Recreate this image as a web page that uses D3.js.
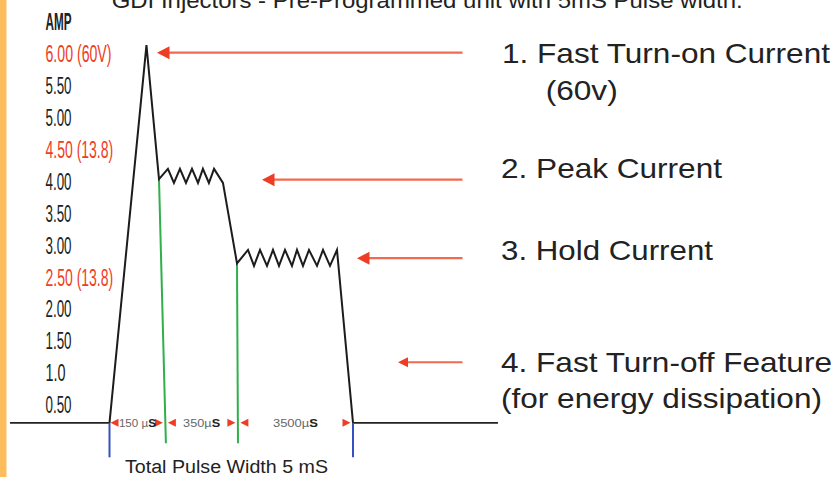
<!DOCTYPE html>
<html><head><meta charset="utf-8">
<script src="https://cdn.jsdelivr.net/npm/d3@7"></script>
<style>html,body{margin:0;padding:0;background:#fff;overflow:hidden}</style>
</head><body><svg id="c" width="836" height="477"></svg>
<script>
// ---------- data ----------
const titleText = "GDI Injectors - Pre-Programmed unit with 5mS Pulse width.";
const axisTitle = "AMP";
const tickValues = [6, 5.5, 5, 4.5, 4, 3.5, 3, 2.5, 2, 1.5, 1.0, 0.5];
const tickLabels = ["6.00 (60V)", "5.50", "5.00", "4.50 (13.8)", "4.00", "3.50", "3.00", "2.50 (13.8)", "2.00", "1.50", "1.0", "0.50"];
const tickHighlight = [true, false, false, true, false, false, false, true, false, false, false, false];

// waveform: time (µs) and current (A)
const waveTime = [0, 112, 150,
  190, 217, 244, 271, 298, 325, 347, 374, 397,
  437, 500,
  832, 1013, 1194, 1405, 1586, 1767, 1948, 2159, 2310, 2491, 2672, 2914, 3095, 3306, 3517,
  4000];
const waveAmp = [0.22, 6.14, 4.04,
  4.20, 3.98, 4.20, 3.98, 4.20, 3.98, 4.20, 3.98, 4.20,
  3.98, 2.72,
  2.93, 2.68, 2.93, 2.68, 2.93, 2.68, 2.93, 2.68, 2.93, 2.68, 2.93, 2.68, 2.93, 2.68, 2.93,
  0.22];
const baseAmp = 0.22;

// phase markers
const markerTime = [0, 150, 500, 4000];
const markerBottomTime = [0, 181, 530, 4000];
const markerKind = ["blue", "green", "green", "blue"];
const segmentLabels = ["150 µS", "350µS", "3500µS"];
const totalLabel = "Total Pulse Width 5 mS";

// annotations
const annotationText = [["1. Fast Turn-on Current", "(60v)"], ["2. Peak Current"], ["3. Hold Current"], ["4. Fast Turn-off Feature", "(for energy dissipation)"]];
const annotationArrowAmp = [6.02, 4.03, 2.80, 1.17];

// ---------- layout ----------
const svg = d3.select("#c");
const W = 836, H = 477;
const y = d3.scaleLinear().domain([0.5, 6]).range([405, 54]);
const x = d3.scaleLinear().domain([0, 150, 500, 4000]).range([109.5, 159, 237, 353]);
const baseY = y(baseAmp);
const COLORS = { red: "#ee3d24", arrow: "#f26a4e", ink: "#222222", green: "#2fb04a", blue: "#3650c0", orange: "#fdbd5f" };

svg.append("rect").attr("x", 0).attr("y", 0).attr("width", W).attr("height", H).attr("fill", "#fff");
svg.append("rect").attr("x", 0).attr("y", 0).attr("width", 6.5).attr("height", H).attr("fill", COLORS.orange);

// title (cut off at top, as in the reference)
svg.append("text").attr("x", 111.7).attr("y", 8).attr("font-family", "'Liberation Sans', Arial, sans-serif")
  .attr("font-size", 22).attr("fill", COLORS.ink).attr("textLength", 631).attr("lengthAdjust", "spacingAndGlyphs")
  .text(titleText);

// y axis labels
const narrow = "'Liberation Sans Narrow', 'Arial Narrow', 'Liberation Sans', Arial, sans-serif";
svg.append("text").attr("x", 45.5).attr("y", 30).attr("font-family", narrow).attr("font-weight", "bold")
  .attr("font-size", 23).attr("fill", COLORS.ink).attr("textLength", 26).attr("lengthAdjust", "spacingAndGlyphs")
  .text(axisTitle);

svg.append("g").selectAll("text").data(tickValues).join("text")
  .attr("x", 45.5).attr("y", d => y(d) + 8.2)
  .attr("font-family", narrow).attr("font-size", 23.5)
  .attr("fill", (d, i) => tickHighlight[i] ? COLORS.red : COLORS.ink)
  .attr("textLength", (d, i) => tickLabels[i].length > 5 ? (i === 0 ? 66 : 67.7) : (tickLabels[i].length === 3 ? 20 : 26))
  .attr("lengthAdjust", "spacingAndGlyphs")
  .text((d, i) => tickLabels[i]);

// baseline (axis line)
svg.append("line").attr("x1", 10).attr("x2", x(0)).attr("y1", baseY).attr("y2", baseY)
  .attr("stroke", COLORS.ink).attr("stroke-width", 1.8);
svg.append("line").attr("x1", x(4000)).attr("x2", 498).attr("y1", baseY).attr("y2", baseY)
  .attr("stroke", COLORS.ink).attr("stroke-width", 1.8);

// phase marker lines
const ampAt = t => waveAmp[waveTime.indexOf(t)];
const markerBottomAmp = k => k === "blue" ? -0.32 : -0.10;
markerTime.forEach((t, i) => {
  const k = markerKind[i];
  svg.append("line")
    .attr("x1", x(t)).attr("y1", k === "blue" ? baseY : y(ampAt(t)))
    .attr("x2", x(markerBottomTime[i])).attr("y2", y(markerBottomAmp(k)))
    .attr("stroke", k === "blue" ? COLORS.blue : COLORS.green).attr("stroke-width", 2);
});

// waveform
const line = d3.line().x((d, i) => x(waveTime[i])).y(d => y(d));
svg.append("path").attr("d", line(waveAmp)).attr("fill", "none")
  .attr("stroke", "#1c1c1c").attr("stroke-width", 2).attr("stroke-linejoin", "miter");

// marker x at baseline (handles slanted green lines)
const markerXAtBase = markerTime.map((t, i) => {
  const k = markerKind[i];
  const y1 = k === "blue" ? baseY : y(ampAt(t));
  const y2 = y(markerBottomAmp(k));
  const f = (baseY - y1) / (y2 - y1);
  return x(t) + f * (x(markerBottomTime[i]) - x(t));
});

// small red triangles
const tri = (tipX, dir) => {
  const w = 8, h = 4;
  const bx = tipX + dir * w;
  return `M${tipX},${baseY} L${bx},${baseY - h} L${bx},${baseY + h} Z`;
};
const triG = svg.append("g").attr("fill", COLORS.red);
markerXAtBase.forEach((mx, i) => {
  if (i > 0) triG.append("path").attr("d", tri(mx - 2.5, -1));
  if (i < markerXAtBase.length - 1) triG.append("path").attr("d", tri(mx + (i === 0 ? 1 : 2.5), 1));
});

// segment labels
const segWidths = [37, 37, 45];
segmentLabels.forEach((s, i) => {
  const cx = (markerXAtBase[i] + markerXAtBase[i + 1]) / 2;
  const t = svg.append("text").attr("x", cx).attr("y", baseY + 4).attr("text-anchor", "middle")
    .attr("font-family", "'Liberation Sans', Arial, sans-serif").attr("font-size", 10.5)
    .attr("fill", "#666").attr("textLength", segWidths[i]).attr("lengthAdjust", "spacingAndGlyphs");
  t.append("tspan").text(s.slice(0, -1));
  t.append("tspan").attr("fill", "#222").attr("font-weight", "bold").text(s.slice(-1));
});

svg.append("text").attr("x", 125).attr("y", 473).attr("font-family", "'Liberation Sans', Arial, sans-serif")
  .attr("font-size", 18).attr("fill", COLORS.ink).attr("textLength", 203).attr("lengthAdjust", "spacingAndGlyphs")
  .text(totalLabel);

// annotation arrows
const arrowTipX = [157, 262, 357, 398];
const arrowTailX = 462.5;
annotationArrowAmp.forEach((a, i) => {
  const ty = y(a), tx = arrowTipX[i];
  const hl = i === 3 ? 10 : 12.5, hh = i === 3 ? 5 : 6.5;
  svg.append("line").attr("x1", tx + hl - 1).attr("x2", arrowTailX).attr("y1", ty).attr("y2", ty)
    .attr("stroke", COLORS.arrow).attr("stroke-width", 2.2);
  svg.append("path").attr("d", `M${tx},${ty} L${tx + hl},${ty - hh} L${tx + hl},${ty + hh} Z`).attr("fill", COLORS.red);
});

// annotation text
const annX = [[502, 545.7], [501], [501], [501, 501]];
const annY = [[63, 100], [178], [260], [372, 408]];
const annW = [[328, 72], [221], [212], [331, 321]];
annotationText.forEach((lines, i) => {
  lines.forEach((s, j) => {
    svg.append("text").attr("x", annX[i][j]).attr("y", annY[i][j])
      .attr("font-family", "'Liberation Sans', Arial, sans-serif").attr("font-size", 28)
      .attr("fill", COLORS.ink).attr("textLength", annW[i][j]).attr("lengthAdjust", "spacingAndGlyphs")
      .text(s);
  });
});
</script>
</body></html>
